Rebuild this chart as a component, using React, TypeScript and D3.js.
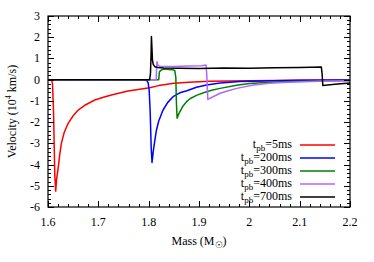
import React from "react";
import * as d3 from "d3";

type P = [number, number];

const xTicks = [1.6, 1.7, 1.8, 1.9, 2.0, 2.1, 2.2];
const xTickLabels = ["1.6", "1.7", "1.8", "1.9", "2", "2.1", "2.2"];
const yTicks = [-6, -5, -4, -3, -2, -1, 0, 1, 2, 3];

const red5: P[] = [
  [1.6, 0], [1.607, 0], [1.609, -0.2], [1.611, -1.5], [1.6135, -4.5], [1.6153, -5.25],
  [1.617, -4.7], [1.62, -4.2], [1.6235, -3.5], [1.6266, -3.0], [1.632, -2.5], [1.64, -2.06],
  [1.65, -1.7], [1.66, -1.43], [1.675, -1.18], [1.693, -0.96], [1.71, -0.83], [1.726, -0.72],
  [1.759, -0.53], [1.782, -0.45], [1.802, -0.38], [1.82, -0.28], [1.85, -0.17], [1.88, -0.12],
  [1.92, -0.08], [2.0, -0.05], [2.1, -0.03], [2.2, -0.02],
];

const blue200: P[] = [
  [1.6, 0], [1.79, 0], [1.796, -0.03], [1.799, -0.15], [1.801, -0.5], [1.803, -1.5],
  [1.805, -3.2], [1.8067, -3.9], [1.809, -3.4], [1.812, -2.9], [1.8155, -2.37], [1.82, -1.95],
  [1.8286, -1.43], [1.838, -1.07], [1.8485, -0.8], [1.862, -0.62], [1.876, -0.52], [1.895, -0.36],
  [1.915, -0.25], [1.942, -0.16], [1.981, -0.09], [2.05, -0.05], [2.1, -0.03], [2.2, -0.02],
];

const green300: P[] = [
  [1.6, 0], [1.82, 0], [1.8207, 0.2], [1.8215, 0.38], [1.825, 0.45], [1.829, 0.5],
  [1.84, 0.48], [1.848, 0.47], [1.852, 0.42], [1.854, 0.1], [1.855, -1.0], [1.8565, -1.82],
  [1.86, -1.6], [1.868, -1.25], [1.876, -1.02], [1.882, -0.9], [1.895, -0.74], [1.909, -0.62],
  [1.925, -0.5], [1.942, -0.41], [1.975, -0.26], [2.0, -0.18], [2.041, -0.12], [2.1, -0.07],
  [2.2, -0.04],
];

const purple400: P[] = [
  [1.6, 0], [1.815, 0], [1.8155, 0.4], [1.8165, 0.85], [1.818, 0.7], [1.822, 0.63],
  [1.85, 0.62], [1.88, 0.64], [1.905, 0.66], [1.914, 0.69], [1.9155, 0.2], [1.9175, -0.93],
  [1.925, -0.84], [1.942, -0.64], [1.958, -0.52], [1.975, -0.41], [2.008, -0.25], [2.04, -0.17],
  [2.075, -0.12], [2.14, -0.07], [2.2, -0.05],
];

const black700: P[] = [
  [1.6, 0], [1.802, 0], [1.8036, 0.3], [1.8048, 1.2], [1.8055, 2.03], [1.8065, 1.5],
  [1.8075, 0.93], [1.809, 0.72], [1.8125, 0.61], [1.818, 0.57], [1.83, 0.55], [1.86, 0.54],
  [1.9, 0.53], [1.95, 0.55], [2.0, 0.54], [2.05, 0.56], [2.1, 0.57], [2.143, 0.6],
  [2.1445, 0.3], [2.146, -0.27], [2.17, -0.22], [2.2, -0.16],
];

const seriesLabels = ["5ms", "200ms", "300ms", "400ms", "700ms"];
const seriesColors = ["#ff0000", "#0000ff", "#008000", "#b266ff", "#000000"];
const seriesData = [red5, blue200, green300, purple400, black700];

const W = 374;
const H = 262;
const M = { left: 48, right: 350, top: 16, bottom: 207 };
const FONT = "'Liberation Serif', 'DejaVu Serif', 'Times New Roman', Times, serif";

export default function App() {
  const x = d3.scaleLinear().domain([1.6, 2.2]).range([M.left, M.right]);
  const y = d3.scaleLinear().domain([-6, 3]).range([M.bottom, M.top]);
  const line = d3
    .line<P>()
    .x((d) => x(d[0]))
    .y((d) => y(d[1]));

  const xMinor = d3.range(1.6, 2.2001, 0.02);
  const yMinor = d3.range(-6, 3.0001, 0.2);
  const ticks: any[] = [];
  xMinor.forEach((v, i) => {
    const major = i % 5 === 0;
    const len = major ? 6 : 3;
    const px = Math.round(x(v)) + 0.5;
    ticks.push(<line key={"xb" + i} x1={px} x2={px} y1={M.bottom} y2={M.bottom - len} />);
    ticks.push(<line key={"xt" + i} x1={px} x2={px} y1={M.top} y2={M.top + len} />);
  });
  yMinor.forEach((v, i) => {
    const major = i % 5 === 0;
    const len = major ? 6 : 3;
    const py = Math.round(y(v)) + 0.5;
    ticks.push(<line key={"yl" + i} x1={M.left} x2={M.left + len} y1={py} y2={py} />);
    ticks.push(<line key={"yr" + i} x1={M.right} x2={M.right - len} y1={py} y2={py} />);
  });

  const legX = 292;
  const legY0 = 145;
  const legDy = 13;
  const ts = { fontFamily: FONT };

  return (
    <svg width={W} height={H} style={{ position: "absolute", left: 0, top: 0, fontFamily: FONT }}>
      <defs>
        <clipPath id="plotclip">
          <rect x={M.left} y={M.top} width={M.right - M.left} height={M.bottom - M.top} />
        </clipPath>
      </defs>
      <rect x={0} y={0} width={W} height={H} fill="#fff" />
      <g clipPath="url(#plotclip)" fill="none" strokeWidth={1.5} strokeLinejoin="round">
        {seriesData.map((d, i) => (
          <path key={i} d={line(d) || ""} stroke={seriesColors[i]} />
        ))}
      </g>
      <g stroke="#000" strokeWidth={1}>{ticks}</g>
      <rect
        x={M.left}
        y={M.top}
        width={M.right - M.left}
        height={M.bottom - M.top}
        fill="none"
        stroke="#000"
        strokeWidth={1.2}
      />
      <g fontSize={12} fill="#000">
        {xTicks.map((v, i) => (
          <text key={"xl" + i} x={x(v)} y={226} textAnchor="middle" style={ts}>
            {xTickLabels[i]}
          </text>
        ))}
        {yTicks.map((v) => (
          <text key={"yl" + v} x={40} y={y(v) + 4} textAnchor="end" style={ts}>
            {String(v)}
          </text>
        ))}
      </g>
      <text x={199} y={245} fontSize={12} textAnchor="middle" style={ts}>
        Mass (M
        <tspan fontSize={9} dy={3}>☉</tspan>
        <tspan dy={-3}>)</tspan>
      </text>
      <text
        transform={`translate(16,${(M.top + M.bottom) / 2}) rotate(-90)`}
        fontSize={12}
        textAnchor="middle"
        style={ts}
      >
        Velocity (10
        <tspan fontSize={8} dy={-5}>4</tspan>
        <tspan dy={5}> km/s)</tspan>
      </text>
      <g fontSize={12}>
        {seriesLabels.map((lab, i) => {
          const cy = legY0 + i * legDy;
          return (
            <g key={"leg" + i}>
              <text x={legX} y={cy + 3} textAnchor="end" style={ts}>
                t<tspan fontSize={9} dy={3}>pb</tspan>
                <tspan dy={-3}>={lab}</tspan>
              </text>
              <line x1={300} x2={335} y1={cy} y2={cy} stroke={seriesColors[i]} strokeWidth={1.5} />
            </g>
          );
        })}
      </g>
    </svg>
  );
}
